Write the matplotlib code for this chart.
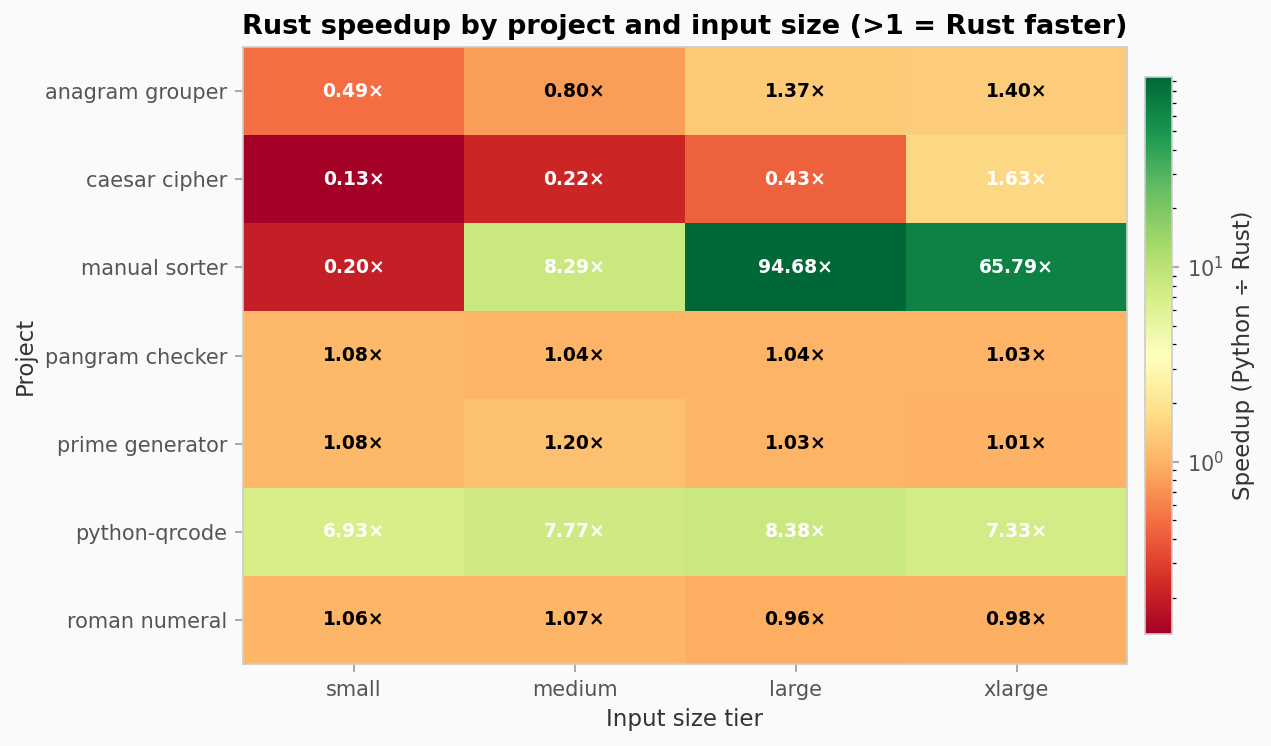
import numpy as np
import matplotlib.pyplot as plt
from matplotlib.colors import LogNorm

projects = ["anagram grouper", "caesar cipher", "manual sorter", "pangram checker",
            "prime generator", "python-qrcode", "roman numeral"]
tiers = ["small", "medium", "large", "xlarge"]

speedup = np.array([
    [0.49, 0.80, 1.37, 1.40],
    [0.13, 0.22, 0.43, 1.63],
    [0.20, 8.29, 94.68, 65.79],
    [1.08, 1.04, 1.04, 1.03],
    [1.08, 1.20, 1.03, 1.01],
    [6.93, 7.77, 8.38, 7.33],
    [1.06, 1.07, 0.96, 0.98],
])

bg = '#fafafa'
fig = plt.figure(figsize=(1271 / 150, 746 / 150), dpi=150, facecolor=bg)
ax = fig.add_axes([243 / 1271, 1 - 664 / 746, 884 / 1271, 617 / 746])
ax.set_facecolor(bg)

norm = LogNorm(vmin=speedup.min(), vmax=speedup.max())
im = ax.imshow(speedup, cmap='RdYlGn', norm=norm, aspect='auto')

for i in range(len(projects)):
    for j in range(len(tiers)):
        v = speedup[i, j]
        col = 'white' if abs(np.log(v)) > np.log(1.5) else 'black'
        ax.text(j, i, f"{v:.2f}×", ha='center', va='center', color=col,
                fontsize=9, fontweight='bold')

ax.set_xticks(range(len(tiers)))
ax.set_xticklabels(tiers)
ax.set_yticks(range(len(projects)))
ax.set_yticklabels(projects)
ax.tick_params(colors='#555555', labelsize=10, length=4, color='#999999')
ax.set_xlabel('Input size tier', fontsize=11, color='#333333')
ax.set_ylabel('Project', fontsize=11, color='#333333')
ax.set_title('Rust speedup by project and input size (>1 = Rust faster)',
             fontsize=13, fontweight='bold')
for s in ax.spines.values():
    s.set_color('#cccccc')

cax = fig.add_axes([1145 / 1271, 1 - 634 / 746, 27 / 1271, 557 / 746])
cb = fig.colorbar(im, cax=cax)
cb.set_label('Speedup (Python ÷ Rust)', fontsize=11, color='#333333')
cb.ax.tick_params(colors='#555555', labelsize=10, color='#999999')
cb.outline.set_edgecolor('#cccccc')

fig.savefig('out.png', dpi=150, facecolor=bg)
